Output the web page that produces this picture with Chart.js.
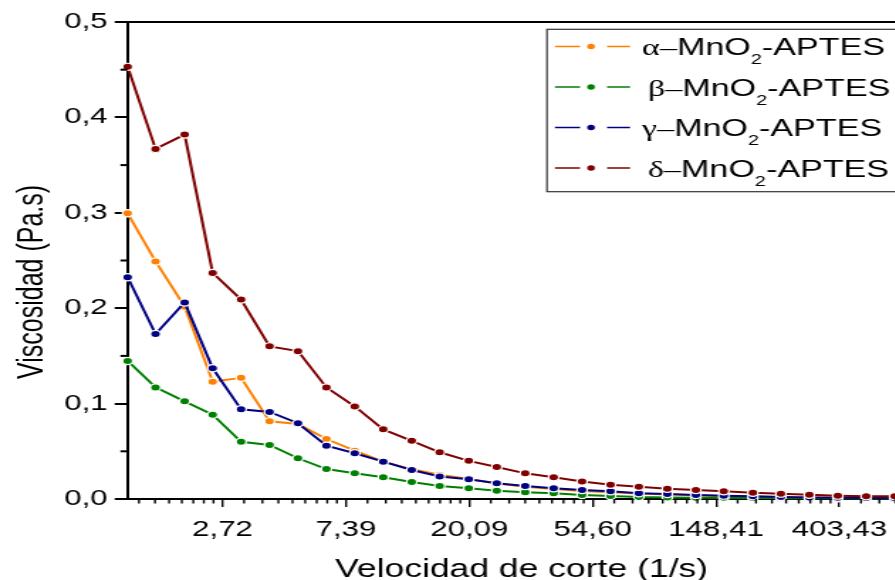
<!DOCTYPE html>
<html>
<head>
<meta charset="utf-8">
<title>Viscosidad vs velocidad de corte</title>
<script src="https://cdn.jsdelivr.net/npm/chart.js@4.4.1/dist/chart.umd.min.js"></script>
<style>
  html, body { margin: 0; padding: 0; background: #fff; width: 895px; height: 580px; overflow: hidden; }
  /* the original picture is stretched sideways, so the whole canvas is too */
  #wrap { position: absolute; left: 0; top: 0; transform: scaleX(1.42); transform-origin: 0 0; }
</style>
</head>
<body>
<div id="wrap"><canvas id="chart" width="680" height="580"></canvas></div>
<script>
// shear rate (1/s), ten points per decade
const shearRate = [1.26, 1.58, 2.0, 2.51, 3.16, 3.98, 5.01, 6.31, 7.94, 10.0,
  12.6, 15.8, 20.0, 25.1, 31.6, 39.8, 50.1, 63.1, 79.4, 100,
  126, 158, 200, 251, 316, 398, 501, 631];

// viscosity (Pa.s)
const alphaVisc = [0.2995, 0.249, 0.2016, 0.123, 0.127, 0.0814, 0.0786, 0.0629, 0.0507, 0.0391,
  0.0311, 0.0254, 0.021, 0.0162, 0.0128, 0.0104, 0.0085, 0.0071, 0.0057, 0.0047,
  0.0039, 0.0032, 0.0026, 0.0021, 0.0017, 0.0014, 0.0012, 0.0010];
const betaVisc = [0.1447, 0.117, 0.1024, 0.0884, 0.060, 0.0566, 0.0427, 0.0314, 0.0269, 0.0227,
  0.0178, 0.0136, 0.0112, 0.0087, 0.007, 0.006, 0.0042, 0.0031, 0.0021, 0.0017,
  0.0014, 0.0012, 0.0010, 0.0009, 0.0008, 0.0007, 0.0006, 0.0006];
const gammaVisc = [0.2324, 0.173, 0.206, 0.137, 0.094, 0.0912, 0.0794, 0.0559, 0.0479, 0.0391,
  0.0304, 0.0236, 0.0206, 0.0165, 0.0136, 0.0112, 0.0094, 0.0081, 0.006, 0.0052,
  0.0042, 0.0035, 0.0028, 0.0021, 0.0016, 0.0012, 0.0010, 0.0009];
const deltaVisc = [0.453, 0.367, 0.382, 0.237, 0.209, 0.160, 0.155, 0.117, 0.097, 0.073,
  0.061, 0.049, 0.040, 0.0335, 0.0269, 0.0228, 0.0183, 0.015, 0.0129, 0.0108,
  0.0094, 0.0081, 0.0066, 0.0056, 0.0045, 0.0035, 0.0028, 0.0028];

const seriesNames = ['α', 'β', 'γ', 'δ'];
const seriesColors = ['#ff8000', '#008000', '#000080', '#800000'];

// x tick labels sit at e^1 ... e^6
const xTicks = [2.71828, 7.38906, 20.0855, 54.5982, 148.413, 403.429];
const yTicks = [0, 0.1, 0.2, 0.3, 0.4, 0.5];

const SANS = '"Liberation Sans", Arial, sans-serif';
const SERIF = '"Liberation Serif", "Times New Roman", serif';
Chart.defaults.font.family = SANS;
Chart.defaults.color = '#000';

function comma(v, d) {
  return v.toFixed(d).replace('.', ',');
}

function makeSet(i, values) {
  return {
    label: seriesNames[i] + '–MnO2-APTES',
    data: shearRate.map((x, k) => ({ x: x, y: values[k] })),
    borderColor: seriesColors[i],
    backgroundColor: seriesColors[i],
    borderWidth: 2,
    pointRadius: 3.6,
    pointBorderWidth: 1.2,
    pointBorderColor: '#fff',
    pointBackgroundColor: seriesColors[i],
    tension: 0,
    clip: false,
    order: 3 - i
  };
}

// minor ticks, titles, frame and the legend
const extras = {
  id: 'extras',
  afterDraw(chart) {
    const ctx = chart.ctx;
    const a = chart.chartArea;
    const xs = chart.scales.x;
    const ys = chart.scales.y;
    ctx.save();
    ctx.strokeStyle = '#000';

    // top frame
    ctx.lineWidth = 2;
    ctx.beginPath();
    ctx.moveTo(a.left - 1, a.top);
    ctx.lineTo(a.right + 40, a.top);
    ctx.stroke();

    // x minor ticks: 8 between each pair of majors
    ctx.lineWidth = 1.4;
    const edges = [xTicks[0] / Math.E].concat(xTicks, [xTicks[xTicks.length - 1] * Math.E]);
    for (let i = 0; i < edges.length - 1; i++) {
      const step = (edges[i + 1] - edges[i]) / 9;
      for (let k = 1; k < 9; k++) {
        const v = edges[i] + k * step;
        if (v <= xs.min || v >= xs.max) continue;
        const px = xs.getPixelForValue(v);
        ctx.beginPath();
        ctx.moveTo(px, a.bottom);
        ctx.lineTo(px, a.bottom + 4.5);
        ctx.stroke();
      }
    }

    // y minor ticks
    ctx.lineWidth = 2;
    for (let i = 0; i < yTicks.length - 1; i++) {
      const py = ys.getPixelForValue((yTicks[i] + yTicks[i + 1]) / 2);
      ctx.beginPath();
      ctx.moveTo(a.left, py);
      ctx.lineTo(a.left - 5, py);
      ctx.stroke();
    }

    // axis titles
    ctx.fillStyle = '#000';
    ctx.textBaseline = 'alphabetic';
    ctx.textAlign = 'left';
    ctx.font = '25px ' + SANS;
    ctx.fillText('Velocidad de corte (1/s)', 236, 576.5);
    ctx.save();
    ctx.translate(29.6, 379);
    ctx.rotate(-Math.PI / 2);
    ctx.fillText('Viscosidad (Pa.s)', 0, 0);
    ctx.restore();

    // legend box
    const boxL = 385.2, boxT = 29.3, boxB = 191.7;
    ctx.fillStyle = '#fff';
    ctx.fillRect(boxL, boxT, 400, boxB - boxT);
    ctx.strokeStyle = '#333';
    ctx.lineWidth = 1.2;
    ctx.strokeRect(boxL, boxT, 400, boxB - boxT);

    const rowBase = [55, 95.5, 136, 176.5];
    const textX = [452.1, 456.3, 452.1, 456.3];
    seriesNames.forEach((g, i) => {
      const base = rowBase[i];
      const mid = base - 8.5;
      ctx.strokeStyle = seriesColors[i];
      ctx.lineWidth = 1.5;
      ctx.beginPath();
      ctx.moveTo(390.8, mid); ctx.lineTo(408.5, mid);
      ctx.moveTo(427.5, mid); ctx.lineTo(443.7, mid);
      ctx.stroke();
      ctx.fillStyle = seriesColors[i];
      ctx.beginPath();
      ctx.arc(416.2, mid, 2.7, 0, Math.PI * 2);
      ctx.fill();

      ctx.fillStyle = '#000';
      let x = textX[i];
      ctx.font = '24px ' + SERIF;
      ctx.fillText(g + '–', x, base);
      x += ctx.measureText(g + '–').width;
      ctx.font = '24px ' + SANS;
      ctx.fillText('MnO', x, base);
      x += ctx.measureText('MnO').width;
      ctx.font = '14px ' + SANS;
      ctx.fillText('2', x, base + 9);
      x += ctx.measureText('2').width;
      ctx.font = '24px ' + SANS;
      ctx.fillText('-APTES', x, base);
    });
    ctx.restore();
  }
};

new Chart(document.getElementById('chart'), {
  type: 'line',
  data: {
    datasets: [
      makeSet(0, alphaVisc),
      makeSet(1, betaVisc),
      makeSet(2, gammaVisc),
      makeSet(3, deltaVisc)
    ]
  },
  options: {
    responsive: false,
    devicePixelRatio: 1,
    animation: false,
    layout: { padding: { top: 22, left: 0, right: 30, bottom: 0 } },
    plugins: {
      legend: { display: false },
      tooltip: { enabled: false }
    },
    scales: {
      x: {
        type: 'logarithmic',
        min: 1.2589,
        max: 794,
        afterBuildTicks: (scale) => {
          scale.ticks = xTicks.map((v) => ({ value: v, major: true }));
        },
        afterFit: (scale) => { scale.height = 81; },
        ticks: {
          autoSkip: false,
          maxRotation: 0,
          padding: 10,
          font: { size: 22 },
          color: '#000',
          callback: (v) => comma(v, 2)
        },
        grid: { drawOnChartArea: false, tickLength: 8, color: '#000', lineWidth: 1.4 },
        border: { display: true, color: '#000', width: 2 }
      },
      y: {
        min: 0,
        max: 0.5,
        afterBuildTicks: (scale) => {
          scale.ticks = yTicks.map((v) => ({ value: v }));
        },
        afterFit: (scale) => { scale.width = 89.8; },
        ticks: {
          padding: 5,
          font: { size: 22 },
          color: '#000',
          callback: (v) => comma(v, 1)
        },
        grid: { drawOnChartArea: false, tickLength: 9, color: '#000', lineWidth: 2 },
        border: { display: true, color: '#000', width: 2 }
      }
    }
  },
  plugins: [extras]
});
</script>
</body>
</html>
